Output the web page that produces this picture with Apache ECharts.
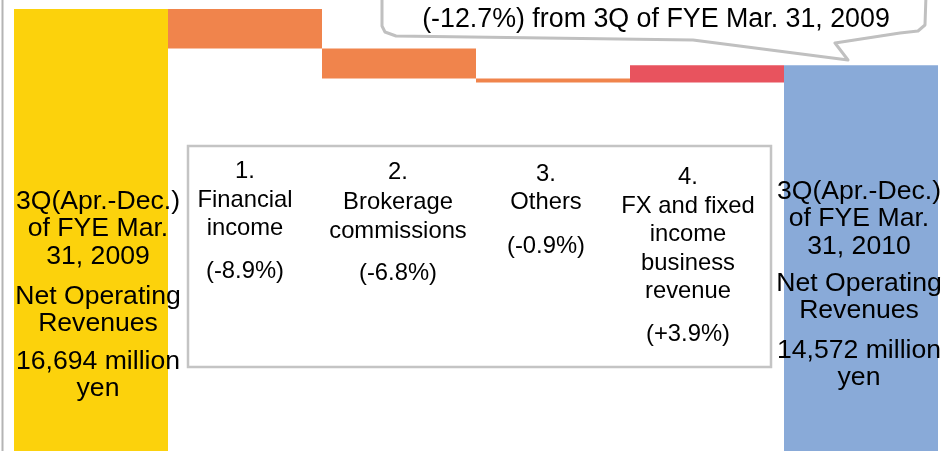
<!DOCTYPE html>
<html>
<head>
<meta charset="utf-8">
<script src="https://cdn.jsdelivr.net/npm/echarts@6/dist/echarts.min.js"></script>
<style>
html,body{margin:0;padding:0;background:#fff;}
#chart{width:942px;height:451px;}
</style>
</head>
<body>
<div id="chart"></div>
<script>
// ---- data ----
const categories = ['3Q FYE Mar. 31, 2009', 'Financial income', 'Brokerage commissions', 'Others', 'FX and fixed income business revenue', '3Q FYE Mar. 31, 2010'];
const startValue = 16694;
const changes = [-1487, -1135, -150, 650];
const endValue = 14572;
const changeNames = [
  ['1.', 'Financial', 'income', '(-8.9%)'],
  ['2.', 'Brokerage', 'commissions', '(-6.8%)'],
  ['3.', 'Others', '(-0.9%)'],
  ['4.', 'FX and fixed', 'income', 'business', 'revenue', '(+3.9%)']
];
const startLabel = ['3Q(Apr.-Dec.)', 'of FYE Mar.', '31, 2009', 'Net Operating', 'Revenues', '16,694 million', 'yen'];
const endLabel = ['3Q(Apr.-Dec.)', 'of FYE Mar.', '31, 2010', 'Net Operating', 'Revenues', '14,572 million', 'yen'];
const calloutText = '(-12.7%) from 3Q of FYE Mar. 31, 2009';

// ---- build waterfall ----
const baseData = [0];
const barData = [startValue];
let running = startValue;
changes.forEach(d => {
  const next = running + d;
  baseData.push(Math.min(running, next));
  barData.push(Math.abs(d));
  running = next;
});
baseData.push(0);
barData.push(endValue);

const COLORS = {start: '#FCD20C', down: '#F0844C', up: '#E8535E', end: '#89AAD8'};
const itemColors = barData.map((v, i) => {
  if (i === 0) return COLORS.start;
  if (i === barData.length - 1) return COLORS.end;
  return changes[i - 1] < 0 ? COLORS.down : COLORS.up;
});

const FONT = '"Liberation Sans", Arial, sans-serif';
const chart = echarts.init(document.getElementById('chart'));

const option = {
  animation: false,
  grid: {left: 14, right: 4, top: 1, bottom: 0},
  xAxis: {type: 'category', data: categories, show: false},
  yAxis: {type: 'value', min: 0, max: 17000, show: false},
  series: [
    {type: 'bar', stack: 'w', data: baseData, itemStyle: {color: 'transparent'}, barCategoryGap: 0, silent: true},
    {type: 'bar', stack: 'w', barCategoryGap: 0,
     data: barData.map((v, i) => ({value: v, itemStyle: {color: itemColors[i]}}))}
  ]
};
chart.setOption(option);

function textEl(str, x, baseline, size) {
  return {
    type: 'text', silent: true, z: 100,
    style: {text: str, x: x, y: baseline - 0.34 * size + 3, align: 'center', verticalAlign: 'middle',
            font: size + 'px ' + FONT, fill: '#000'}
  };
}

const g = [];
// left border line
g.push({type: 'line', z: 100, shape: {x1: 2.5, y1: 0, x2: 2.5, y2: 451}, style: {stroke: '#b4b4b4', lineWidth: 2}, silent: true});
// callout bubble
g.push({type: 'polyline', silent: true, z: 90,
  shape: {points: [[382, -5], [382, 26], [385, 32], [396, 36], [693, 40], [848, 60], [835, 43], [900, 33], [918, 31], [925, 25], [926, -5]]},
  style: {stroke: '#c0c0c0', lineWidth: 3, fill: '#fff', lineJoin: 'round'}});
g.push(textEl(calloutText, 656, 26, 26.8));
// category box
g.push({type: 'rect', silent: true, z: 90, shape: {x: 188, y: 146, width: 583, height: 221},
  style: {stroke: '#c4c4c4', lineWidth: 2.5, fill: 'none'}});

const boxCenters = [245, 398, 546, 688];
const boxBaselines = [
  [177, 206, 234, 277],
  [178, 208, 237, 279],
  [180, 208, 252],
  [183, 212, 240, 269, 297, 340]
];
changeNames.forEach((lines, i) => {
  lines.forEach((t, j) => g.push(textEl(t, boxCenters[i], boxBaselines[i][j], 23.8)));
});

const startBaselines = [208, 235, 263, 303, 330, 368, 395];
startLabel.forEach((t, j) => g.push(textEl(t, 98, startBaselines[j], 26.6)));
const endBaselines = [198, 225, 253, 290, 317, 357, 384];
endLabel.forEach((t, j) => g.push(textEl(t, 859, endBaselines[j], 26.6)));

chart.setOption({graphic: {elements: g}});
</script>
</body>
</html>
